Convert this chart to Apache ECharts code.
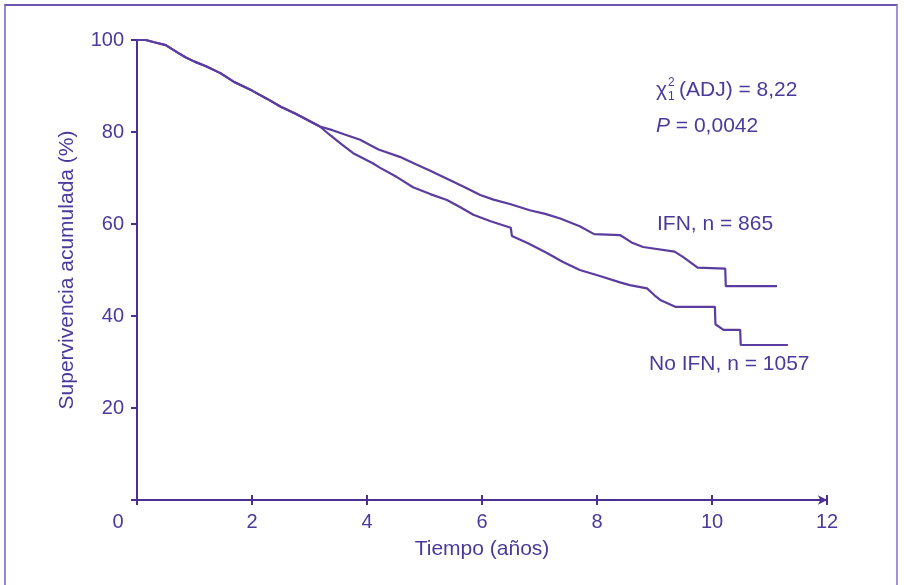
<!DOCTYPE html>
<html>
<head>
<meta charset="utf-8">
<script src="https://cdn.jsdelivr.net/npm/echarts@6/dist/echarts.min.js"></script>
<style>
html,body{margin:0;padding:0;background:#ffffff;}
#frame{position:absolute;left:4px;top:4px;width:894px;height:620px;border-top:2px solid #6d55ad;border-left:2px solid #9a86cc;border-right:2px solid #a58fd6;box-sizing:border-box;}
#chart{position:absolute;left:0;top:0;width:904px;height:585px;}
</style>
</head>
<body>
<div id="frame"></div>
<div id="chart"></div>
<script>
// Tick labels
const xTicks = [0, 2, 4, 6, 8, 10, 12];
const yTicks = [0, 20, 40, 60, 80, 100];

// IFN, n = 865 : time (years) and cumulative survival (%)
const timeIFN = [0, 0.15, 0.3, 0.5, 0.7, 0.85, 1.0, 1.2, 1.45, 1.7, 2.0, 2.25, 2.5, 2.75, 3.0, 3.18,
  3.4, 3.6, 3.88, 4.2, 4.57, 4.85, 5.1, 5.4, 5.7, 5.97, 6.2, 6.5, 6.83, 7.1, 7.36, 7.7, 7.95, 8.4, 8.6, 8.8,
  9.35, 9.5, 9.75, 10.23, 10.24, 11.13];
const survIFN = [100, 100, 99.5, 98.9, 97.3, 96.2, 95.3, 94.3, 92.8, 90.8, 89, 87.3, 85.5, 84, 82.4, 81.2,
  80.4, 79.5, 78.3, 76.2, 74.6, 73, 71.6, 69.8, 68, 66.3, 65.3, 64.3, 63, 62.2, 61.2, 59.5, 57.8, 57.6, 56, 55,
  54, 52.8, 50.5, 50.3, 46.5, 46.5];

// No IFN, n = 1057
const timeNoIFN = [0, 0.15, 0.3, 0.5, 0.7, 0.85, 1.0, 1.2, 1.45, 1.7, 2.0, 2.25, 2.5, 2.75, 3.0, 3.18,
  3.36, 3.56, 3.76, 4.1, 4.23, 4.52, 4.8, 5.1, 5.39, 5.6, 5.85, 6.15, 6.5, 6.52, 6.8, 7.13, 7.4, 7.7, 8.05,
  8.4, 8.57, 8.87, 9.0, 9.1, 9.36, 10.05, 10.06, 10.2, 10.49, 10.5, 11.32];
const survNoIFN = [100, 100, 99.5, 98.9, 97.3, 96.2, 95.3, 94.3, 92.8, 90.8, 89, 87.3, 85.5, 84, 82.4, 81.2,
  79.3, 77.3, 75.4, 73.2, 72.2, 70.2, 68, 66.5, 65.2, 63.8, 62, 60.6, 59.2, 57.4, 55.8, 53.7, 51.8, 50, 48.7,
  47.3, 46.7, 46, 44.5, 43.5, 42, 42, 38.2, 37, 37, 33.7, 33.7];

const seriesNames = ['IFN, n = 865', 'No IFN, n = 1057'];

const purple = '#4b2f93';
const textCol = '#4a3a9c';
const lineCol = '#5b3c9f';
const font = "'Liberation Sans', Arial, sans-serif";

const pairs = (t, v) => t.map((x, i) => [x, v[i]]);

const chart = echarts.init(document.getElementById('chart'), null, {renderer: 'canvas'});
chart.setOption({
  animation: false,
  backgroundColor: 'transparent',
  grid: {left: 137, right: 77, top: 40, bottom: 85, containLabel: false},
  xAxis: [{
    type: 'value', min: 0, max: 12, interval: 2,
    name: 'Tiempo (años)', nameLocation: 'middle', nameGap: 39,
    nameTextStyle: {color: textCol, fontSize: 21, fontFamily: font},
    axisLine: {show: true, lineStyle: {color: purple, width: 2}, symbol: ['none', 'arrow'], symbolSize: [7, 9]},
    axisTick: {show: true, length: 5, lineStyle: {color: purple, width: 2}},
    axisLabel: {
      color: textCol, fontSize: 20, fontFamily: font, margin: 12,
      formatter: v => v === 0 ? '{z|0}' : String(v),
      rich: {z: {color: textCol, fontSize: 20, fontFamily: font, padding: [0, 38, 0, 0]}}
    },
    splitLine: {show: false}
  }, {
    type: 'value', min: 0, max: 12, interval: 2, position: 'top', offset: -460,
    axisLine: {show: false}, axisLabel: {show: false}, splitLine: {show: false},
    axisTick: {show: true, length: 5, lineStyle: {color: purple, width: 2}}
  }],
  yAxis: {
    type: 'value', min: 0, max: 100, interval: 20,
    name: 'Supervivencia acumulada (%)', nameLocation: 'middle', nameGap: 59,
    nameTextStyle: {color: textCol, fontSize: 21, fontFamily: font},
    axisLine: {show: true, lineStyle: {color: purple, width: 2}},
    axisTick: {show: true, length: 6, lineStyle: {color: purple, width: 2}},
    axisLabel: {color: textCol, fontSize: 20, fontFamily: font, margin: 13,
      formatter: v => v === 0 ? '' : String(v)},
    splitLine: {show: false}
  },
  series: [{
    name: seriesNames[0], type: 'line', data: pairs(timeIFN, survIFN),
    showSymbol: false, lineStyle: {color: lineCol, width: 2.2}, z: 3
  }, {
    name: seriesNames[1], type: 'line', data: pairs(timeNoIFN, survNoIFN),
    showSymbol: false, lineStyle: {color: lineCol, width: 2.2}, z: 3
  }],
  graphic: [
    {type: 'text', left: 656, top: 80, style: {text: 'χ', fill: textCol, font: '21px ' + font}},
    {type: 'text', left: 668, top: 77, style: {text: '2', fill: textCol, font: '12px ' + font}},
    {type: 'text', left: 668, top: 91, style: {text: '1', fill: textCol, font: '12px ' + font}},
    {type: 'text', left: 679, top: 80, style: {text: '(ADJ) = 8,22', fill: textCol, font: '21px ' + font}},
    {type: 'text', left: 656, top: 116, style: {
      text: '{i|P} = 0,0042', fill: textCol, font: '21px ' + font,
      rich: {i: {fontStyle: 'italic', fontSize: 21, fontFamily: font, color: textCol}}}},
    {type: 'text', left: 657, top: 214, style: {text: seriesNames[0], fill: textCol, font: '21px ' + font}},
    {type: 'text', left: 649, top: 354, style: {text: seriesNames[1], fill: textCol, font: '21px ' + font}}
  ]
});
</script>
</body>
</html>
